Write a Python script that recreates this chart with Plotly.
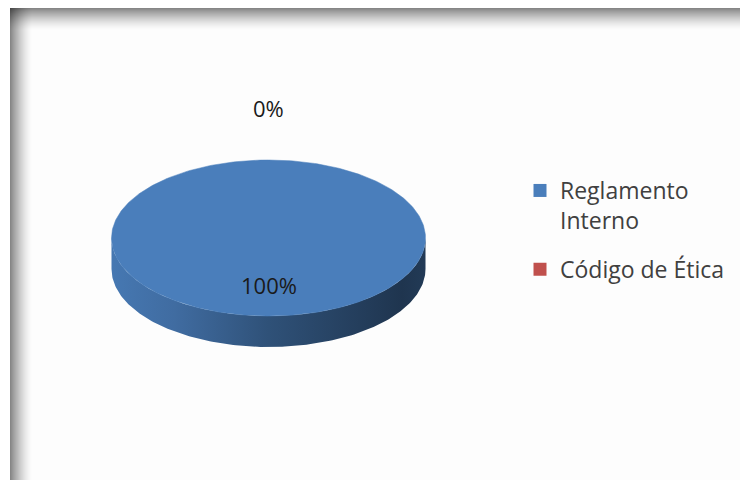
import numpy as np
import plotly.graph_objects as go

# ---- data -------------------------------------------------------------
categories = ["Reglamento Interno", "Código de Ética"]
values = [100, 0]
colors = ["#4a7ebb", "#c0504d"]

# ---- geometry of the tilted pie (pixels on a 740x480 canvas) ----------
W, H = 740, 480
CX, CY = 268.5, 238.0      # centre of the top face
RX, RY = 157.0, 78.0       # radii of the top ellipse
DEPTH = 31.0 / RY          # thickness of the disc, in y units

# side shading factors along the x position of the rim (left -> right)
SHADE_X = [-1.0, -0.6, 0.0, 0.85, 1.0]
SHADE_F = [0.95, 0.86, 0.64, 0.42, 0.46]


def hex_to_rgb(h):
    h = h.lstrip("#")
    return np.array([int(h[i:i + 2], 16) for i in (0, 2, 4)], dtype=float)


def rgb_str(c):
    c = np.clip(np.round(c), 0, 255).astype(int)
    return f"rgb({c[0]},{c[1]},{c[2]})"


total = sum(values)
shares = [v / total for v in values]
starts = np.concatenate([[0.0], np.cumsum(shares)[:-1]]) * 360.0
ends = np.cumsum(shares) * 360.0

fig = go.Figure()

# side wall of the disc (front half only: 90..270 deg clockwise from top)
for a0, a1, col in zip(starts, ends, colors):
    lo, hi = max(a0, 90.0), min(a1, 270.0)
    if hi <= lo:
        continue
    base = hex_to_rgb(col)
    th = np.radians(np.linspace(lo, hi, 181))
    xs, ys = np.sin(th), np.cos(th)
    px = np.concatenate([xs, xs[::-1]])
    py = np.concatenate([ys, ys[::-1] - DEPTH])
    scale = [[(sx + 1) / 2, rgb_str(base * f)] for sx, f in zip(SHADE_X, SHADE_F)]
    fig.add_trace(go.Scatter(
        x=px, y=py, mode="lines", fill="toself",
        fillgradient=dict(type="horizontal", colorscale=scale, start=-1, stop=1),
        line=dict(width=0), hoverinfo="skip", showlegend=False,
    ))

# top faces of the slices
for a0, a1, col, cat in zip(starts, ends, colors, categories):
    if a1 - a0 <= 0:
        continue
    th = np.radians(np.linspace(a0, a1, 361))
    xs, ys = np.sin(th), np.cos(th)
    if a1 - a0 < 360:
        xs = np.concatenate([[0], xs, [0]])
        ys = np.concatenate([[0], ys, [0]])
    fig.add_trace(go.Scatter(
        x=xs, y=ys, mode="lines", fill="toself", fillcolor=col,
        line=dict(color=col, width=0.5), name=cat, hoverinfo="name",
        showlegend=False,
    ))

# legend entries
for cat, col in zip(categories, colors):
    label = cat.replace(" ", "<br>", 1) if cat.startswith("Reglamento") else cat
    fig.add_trace(go.Scatter(
        x=[None], y=[None], mode="markers", name=label, legendgroup=cat,
        marker=dict(symbol="square", size=13, color=col),
    ))

# percentage labels: inside for real slices, above the rim for empty ones
annotations = []
for a0, a1, s in zip(starts, ends, shares):
    mid = np.radians((a0 + a1) / 2)
    r = 0.6 if s >= 0.05 else 1.67
    annotations.append(dict(
        x=np.sin(mid) * r, y=np.cos(mid) * r, xref="x", yref="y",
        text=f"{round(s * 100)}%", showarrow=False,
        font=dict(family="Open Sans", size=22, color="#1a1a1a"),
    ))

# soft grey frame shading along the top and left edges
shapes = [dict(type="rect", xref="paper", yref="paper", layer="below",
               x0=10 / W, x1=1, y0=0, y1=1 - 8 / H,
               fillcolor="#fdfdfd", line=dict(width=0))]
N = 22
for i in range(N):
    a = 0.47 * (1 - i / N) ** 1.5
    shapes.append(dict(type="rect", xref="paper", yref="paper", layer="below",
                       x0=(10 + i) / W, x1=(11 + i) / W, y0=0, y1=1 - 8 / H,
                       fillcolor=f"rgba(0,0,0,{a:.3f})", line=dict(width=0)))
    shapes.append(dict(type="rect", xref="paper", yref="paper", layer="below",
                       x0=10 / W, x1=1,
                       y0=1 - (9 + i) / H, y1=1 - (8 + i) / H,
                       fillcolor=f"rgba(0,0,0,{a:.3f})", line=dict(width=0)))

fig.update_layout(
    width=W, height=H,
    margin=dict(l=0, r=0, t=0, b=0, pad=0),
    paper_bgcolor="white", plot_bgcolor="rgba(0,0,0,0)",
    xaxis=dict(range=[-CX / RX, (W - CX) / RX], visible=False, fixedrange=True),
    yaxis=dict(range=[(CY - H) / RY, CY / RY], visible=False, fixedrange=True),
    showlegend=True,
    legend=dict(
        x=520 / W, xanchor="left", y=1 - 169 / H, yanchor="top",
        font=dict(family="Open Sans", size=23, color="#404040"),
        bgcolor="rgba(0,0,0,0)", valign="top", tracegroupgap=16,
    ),
    annotations=annotations,
    shapes=shapes,
)

fig.write_html("out.html")
